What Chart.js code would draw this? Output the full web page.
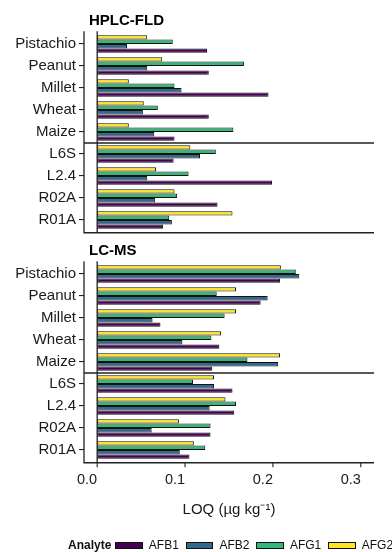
<!DOCTYPE html>
<html>
<head>
<meta charset="utf-8">
<title>LOQ by analyte</title>
<script src="https://cdn.jsdelivr.net/npm/chart.js@4.4.1/dist/chart.umd.min.js"></script>
<style>
  html, body { margin: 0; padding: 0; background: #fff; }
  body { width: 392px; height: 552px; overflow: hidden; position: relative;
         font-family: "Liberation Sans", Arial, Helvetica, sans-serif; }
  canvas { position: absolute; left: 0; }
  #c1 { top: 0; }
  #c2 { top: 240px; }
  #legend { position: absolute; left: 68px; top: 538px; height: 14px; display: flex;
            align-items: center; font-size: 12px; line-height: 14px; white-space: nowrap; color: #111; }
  #legend .ttl { font-weight: bold; margin-right: 4px; }
  #legend .key { width: 25.5px; height: 5px; border: 1px solid #111; margin-right: 6px; }
  #legend .lab { margin-right: 7px; }
</style>
</head>
<body>
<canvas id="c1" width="392" height="240"></canvas>
<canvas id="c2" width="392" height="312"></canvas>
<div id="legend"></div>
<script>
// Sample matrices and reference materials, top to bottom
const categories = ['Pistachio', 'Peanut', 'Millet', 'Wheat', 'Maize', 'L6S', 'L2.4', 'R02A', 'R01A'];
const analytes = ['AFB1', 'AFB2', 'AFG1', 'AFG2'];
const analyteColors = ['#440154', '#31688E', '#35B779', '#FDE725'];

// LOQ (µg/kg), HPLC-FLD
const hplcAFB1 = [0.125, 0.127, 0.195, 0.127, 0.088, 0.087, 0.199, 0.137, 0.075];
const hplcAFB2 = [0.034, 0.057, 0.096, 0.052, 0.065, 0.117, 0.057, 0.066, 0.085];
const hplcAFG1 = [0.086, 0.167, 0.088, 0.069, 0.155, 0.135, 0.104, 0.091, 0.082];
const hplcAFG2 = [0.057, 0.074, 0.036, 0.053, 0.036, 0.106, 0.067, 0.088, 0.154];

// LOQ (µg/kg), LC-MS
const lcmsAFB1 = [0.208, 0.186, 0.072, 0.139, 0.131, 0.154, 0.156, 0.129, 0.105];
const lcmsAFB2 = [0.230, 0.194, 0.063, 0.097, 0.206, 0.133, 0.128, 0.062, 0.094];
const lcmsAFG1 = [0.226, 0.136, 0.145, 0.130, 0.171, 0.109, 0.158, 0.129, 0.123];
const lcmsAFG2 = [0.209, 0.158, 0.158, 0.141, 0.208, 0.133, 0.146, 0.093, 0.110];

const xTicks = [0, 0.1, 0.2, 0.3];
const xLimits = [-0.015, 0.315];
const xTitle = 'LOQ (\u00B5g kg\u207B\u00B9)';
const lastSample = 'Maize'; // separator drawn below this row

const FONT = '"Liberation Sans", Arial, Helvetica, sans-serif';
const INK = '#1a1a1a';
const LINE = '#222';

// Axis lines, zero line, group separator, x tick marks and panel heading
const panelFrame = {
  id: 'panelFrame',
  afterDraw(chart, args, opts) {
    const { ctx, chartArea, scales: { x, y } } = chart;
    const n = chart.data.labels.length;
    const step = y.getPixelForValue(1) - y.getPixelForValue(0);
    const top = y.getPixelForValue(0) - opts.expand * step;
    const bottom = y.getPixelForValue(n - 1) + opts.expand * step;
    const left = chartArea.left, right = chartArea.right;
    ctx.save();
    ctx.strokeStyle = LINE;
    ctx.lineWidth = 1.3;
    ctx.beginPath();
    ctx.moveTo(left, top);
    ctx.lineTo(left, bottom);
    ctx.lineTo(right, bottom);
    ctx.stroke();

    const x0 = x.getPixelForValue(0);
    ctx.beginPath();
    ctx.moveTo(x0, top);
    ctx.lineTo(x0, bottom);
    ctx.stroke();

    const k = chart.data.labels.indexOf(lastSample);
    const ySep = (y.getPixelForValue(k) + y.getPixelForValue(k + 1)) / 2;
    ctx.beginPath();
    ctx.moveTo(left, ySep);
    ctx.lineTo(right, ySep);
    ctx.stroke();

    if (opts.xTickMarks) {
      ctx.lineWidth = 1.1;
      x.ticks.forEach(t => {
        const px = x.getPixelForValue(t.value);
        ctx.beginPath();
        ctx.moveTo(px, bottom);
        ctx.lineTo(px, bottom + 4.5);
        ctx.stroke();
      });
    }

    ctx.fillStyle = '#000';
    ctx.font = 'bold 15px ' + FONT;
    ctx.textAlign = 'left';
    ctx.textBaseline = 'alphabetic';
    ctx.fillText(opts.title, left + 5, top - 6);
    ctx.restore();
  }
};

function buildDatasets(series) {
  // AFG2 first so it sits at the top of each group, AFB1 at the bottom
  return [3, 2, 1, 0].map(i => ({
    label: analytes[i],
    data: series[i],
    backgroundColor: analyteColors[i],
    borderColor: '#111',
    borderWidth: 1,
    borderSkipped: false,
    categoryPercentage: 0.8,
    barPercentage: 1.0
  }));
}

function makeChart(id, title, series, showX, padding) {
  return new Chart(document.getElementById(id), {
    type: 'bar',
    data: { labels: categories, datasets: buildDatasets(series) },
    plugins: [panelFrame],
    options: {
      indexAxis: 'y',
      responsive: false,
      animation: false,
      events: [],
      layout: { padding },
      plugins: {
        legend: { display: false },
        tooltip: { enabled: false },
        panelFrame: { title, expand: 0.58, xTickMarks: showX }
      },
      scales: {
        y: {
          type: 'category',
          offset: true,
          grid: { display: true, drawOnChartArea: false, drawTicks: true, tickLength: 5,
                  offset: false, color: LINE, lineWidth: 1.1 },
          border: { display: false },
          ticks: { color: INK, font: { family: FONT, size: 15 }, padding: 3, autoSkip: false },
          afterFit(s) { s.width = 84; s.paddingTop = 0; s.paddingBottom = 0; }
        },
        x: {
          type: 'linear',
          display: showX,
          min: xLimits[0],
          max: xLimits[1],
          grid: { display: false, drawTicks: false },
          border: { display: false },
          afterBuildTicks(s) { s.ticks = xTicks.map(v => ({ value: v })); },
          ticks: {
            color: INK, font: { family: FONT, size: 14.5 }, align: 'end', padding: 10.6,
            maxRotation: 0, autoSkip: false,
            callback: v => v.toFixed(1)
          },
          title: { display: true, text: xTitle, color: INK, font: { family: FONT, size: 15 },
                   padding: { top: 0, bottom: 2 } },
          afterFit(s) {
            s.height = showX ? 60 : 0;
            s.paddingLeft = 0; s.paddingRight = 0;
          }
        }
      }
    }
  });
}

makeChart('c1', 'HPLC-FLD', [hplcAFB1, hplcAFB2, hplcAFG1, hplcAFG2], false,
          { top: 33, bottom: 9, left: 0, right: 18 });
makeChart('c2', 'LC-MS', [lcmsAFB1, lcmsAFB2, lcmsAFG1, lcmsAFG2], true,
          { top: 23, bottom: 31, left: 0, right: 18 });

// Legend row
const legend = document.getElementById('legend');
const ttl = document.createElement('span');
ttl.className = 'ttl';
ttl.textContent = 'Analyte';
legend.appendChild(ttl);
analytes.forEach((name, i) => {
  const key = document.createElement('span');
  key.className = 'key';
  key.style.background = analyteColors[i];
  const lab = document.createElement('span');
  lab.className = 'lab';
  lab.textContent = name;
  legend.appendChild(key);
  legend.appendChild(lab);
});
</script>
</body>
</html>
